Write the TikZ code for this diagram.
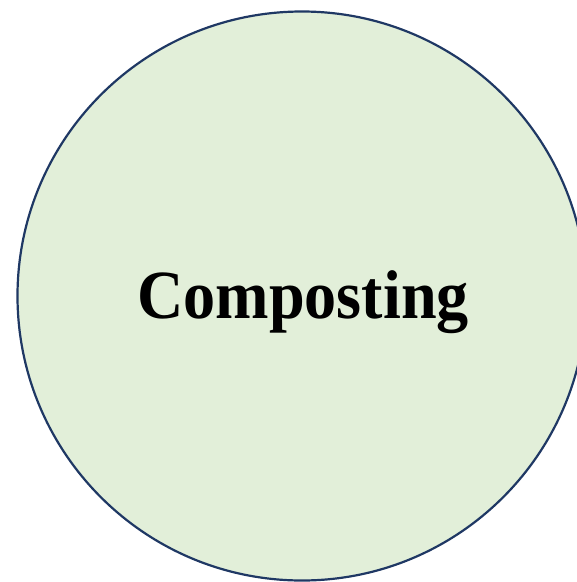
\documentclass[tikz,border=0pt]{standalone}
\usepackage{graphicx}
\usepackage{fontspec}
\setmainfont{Liberation Serif}
\definecolor{compfill}{HTML}{E2EFD9}
\definecolor{compline}{HTML}{1F3864}
\begin{document}
\begin{tikzpicture}[x=1pt, y=-1pt, every node/.style={inner sep=0pt}]
\useasboundingbox (0,0) rectangle (577,582);
\clip (0,0) rectangle (577,582);
\node[draw=compline,line width=2.2pt,fill=compfill,circle,minimum size=569pt] (circ) at (302,296) {};
\node[anchor=base,font=\fontsize{69}{80}\selectfont\bfseries] (lbl) at (303,318) {\scalebox{0.93}[1]{Composting}};
\end{tikzpicture}
\end{document}
